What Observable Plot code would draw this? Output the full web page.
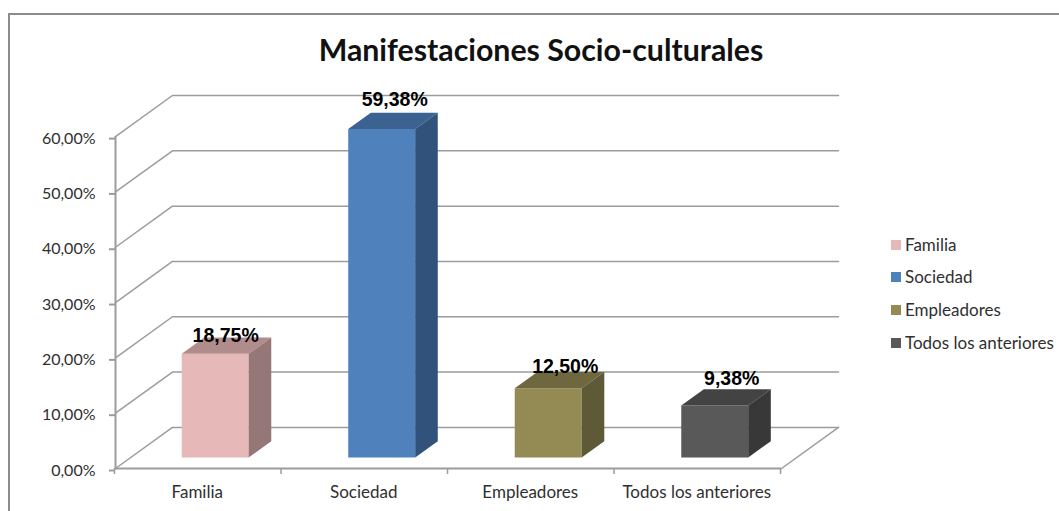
<!DOCTYPE html>
<html lang="es">
<head>
<meta charset="utf-8">
<title>Manifestaciones Socio-culturales</title>
<script src="https://cdn.jsdelivr.net/npm/d3@7"></script>
<script src="https://cdn.jsdelivr.net/npm/@observablehq/plot@0.6"></script>
<style>
  html, body { margin: 0; background: #fff; }
  #chart {
    position: relative; width: 1059px; height: 511px; overflow: hidden;
    font-family: Lato, sans-serif; color: #2f2f2f;
  }
  #frame {
    position: absolute; left: 8px; top: 13px; right: -4px; bottom: -4px;
    border: 2px solid #8c8c8c; box-sizing: border-box;
  }
  #title {
    position: absolute; left: 20px; width: 1042px; top: 29px; text-align: center;
    font-weight: 700; font-size: 30.3px; line-height: 40px; color: #111;
  }
  #legend { position: absolute; left: 891px; top: 229px; }
  #legend div {
    position: absolute; white-space: nowrap; font-size: 17px; line-height: 20px; padding-left: 14px;
  }
  #legend i { position: absolute; left: 0; top: 5px; width: 10px; height: 10px; }
  svg { position: absolute; left: 0; top: 0; }
</style>
</head>
<body>
<div id="chart">
  <div id="frame"></div>
  <div id="title">Manifestaciones Socio-culturales</div>
  <div id="legend"></div>
</div>
<script>
// Survey results
const categories = ["Familia", "Sociedad", "Empleadores", "Todos los anteriores"];
const values = [18.75, 59.38, 12.5, 9.38];
const yTicks = [0, 10, 20, 30, 40, 50, 60];

// Face shades per category
const frontColors = ["#e6b8b7", "#4f81bd", "#948a54", "#595959"];
const topColors = ["#b08d8c", "#3b6291", "#6f683f", "#434343"];
const sideColors = ["#967777", "#31527a", "#5e5936", "#383838"];

// Oblique projection: a point at depth z (0 front, 1 back wall) shifts right and up
const shiftX = 0.342, shiftY = 7.43;
const px = (c, z) => c + z * shiftX;
const py = (v, z) => v + z * shiftY;

const barStart = 0.306, barWidth = 0.402, zFront = 0.268, zBack = 0.665;
const nCat = categories.length;

// Wall gridlines run from the front axis to the back wall, then across it
const gridLines = yTicks.map((v) => [
  {x: px(0, 0), y: py(v, 0)},
  {x: px(0, 1), y: py(v, 1)},
  {x: px(nCat, 1), y: py(v, 1)}
]);
const floorEdge = [
  {x: px(nCat, 0), y: py(0, 0)},
  {x: px(nCat, 1), y: py(0, 1)}
];

const faces = categories.flatMap((name, i) => {
  const l = i + barStart, r = l + barWidth, v = values[i];
  const quad = (face, color, pts) => pts.map(([x, y]) => ({face: `${name}-${face}`, color, x, y}));
  return [
    ...quad("front", frontColors[i], [
      [px(l, zFront), py(0, zFront)], [px(r, zFront), py(0, zFront)],
      [px(r, zFront), py(v, zFront)], [px(l, zFront), py(v, zFront)]
    ]),
    ...quad("top", topColors[i], [
      [px(l, zFront), py(v, zFront)], [px(r, zFront), py(v, zFront)],
      [px(r, zBack), py(v, zBack)], [px(l, zBack), py(v, zBack)]
    ]),
    ...quad("side", sideColors[i], [
      [px(r, zFront), py(0, zFront)], [px(r, zBack), py(0, zBack)],
      [px(r, zBack), py(v, zBack)], [px(r, zFront), py(v, zFront)]
    ])
  ];
});

// Percent text uses a decimal comma
const pct = (v) => v.toFixed(2).replace(".", ",") + "%";

// The value labels sit slightly off the bar tops, each nudged on its own
const labelNudge = [[10.5, -18.5], [13, -29.5], [17, -22], [17, -27]];
const labelMarks = categories.map((name, i) => Plot.text([values[i]], {
  x: () => px(i + barStart + barWidth / 2, zFront),
  y: (v) => py(v, zFront),
  text: pct,
  dx: labelNudge[i][0],
  dy: labelNudge[i][1],
  fontFamily: "'Liberation Sans', Arial, sans-serif",
  fontWeight: 700,
  fontSize: 19.5,
  fill: "#000",
  textAnchor: "middle",
  lineAnchor: "middle",
  stroke: "none"
}));

const axisColor = "#9c9c9c";
const plot = Plot.plot({
  width: 1059,
  height: 511,
  marginLeft: 115,
  marginRight: 221,
  marginTop: 95,
  marginBottom: 43,
  style: {background: "transparent", fontFamily: "Lato, sans-serif", color: "#2f2f2f", overflow: "visible"},
  x: {domain: [0, px(nCat, 1)], axis: null},
  y: {domain: [0, py(60, 1)], axis: null},
  marks: [
    // walls and floor
    ...gridLines.map((pts) => Plot.line(pts, {x: "x", y: "y", stroke: axisColor, strokeWidth: 1.5, curve: "linear"})),
    Plot.line(floorEdge, {x: "x", y: "y", stroke: axisColor, strokeWidth: 1.5}),
    // front axes
    Plot.ruleX([0], {y1: 0, y2: 60, stroke: axisColor, strokeWidth: 2}),
    Plot.ruleY([0], {x1: 0, x2: nCat, stroke: axisColor, strokeWidth: 2}),
    Plot.axisY({
      ticks: yTicks, tickFormat: pct, tickSize: 6, tickPadding: 14, fontSize: 16,
      stroke: axisColor, strokeWidth: 2, fill: "#2f2f2f", dy: 2, label: null
    }),
    Plot.axisX({
      ticks: d3.range(nCat + 1), tickSize: 6, tickFormat: () => "", dx: -1,
      stroke: axisColor, strokeWidth: 1.5, label: null
    }),
    Plot.axisX({
      ticks: categories.map((_, i) => i + 0.5), tickFormat: (d) => categories[Math.floor(d)], dx: -1.5,
      tickSize: 0, tickPadding: 17, fontSize: 17, stroke: "none", fill: "#2f2f2f", label: null
    }),
    // bars: each face is a filled outline
    Plot.line(faces, {x: "x", y: "y", z: "face", fill: "color", stroke: "none", curve: "linear-closed"}),
    ...labelMarks
  ]
});
document.getElementById("chart").appendChild(plot);

// Legend entries stacked to the right of the chart
const legend = document.getElementById("legend");
const legendStep = 32.7;
categories.forEach((name, i) => {
  const row = document.createElement("div");
  row.style.top = `${5.6 + i * legendStep}px`;
  const swatch = document.createElement("i");
  swatch.style.background = frontColors[i];
  row.append(swatch, name);
  legend.appendChild(row);
});
</script>
</body>
</html>
